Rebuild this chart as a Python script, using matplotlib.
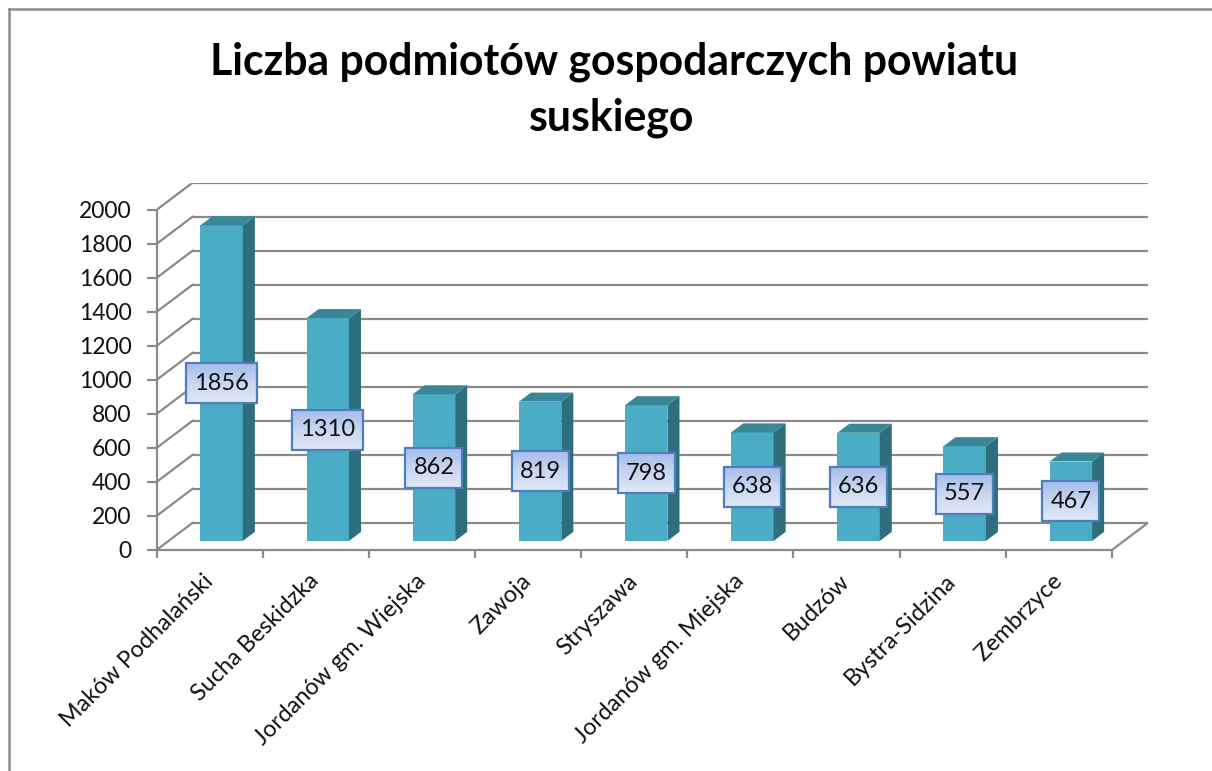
import matplotlib
matplotlib.use("Agg")
import matplotlib.pyplot as plt
import numpy as np
from matplotlib.patches import Polygon, Rectangle
from matplotlib.colors import LinearSegmentedColormap
from matplotlib.lines import Line2D

categories = ["Maków Podhalański", "Sucha Beskidzka", "Jordanów gm. Wiejska",
              "Zawoja", "Stryszawa", "Jordanów gm. Miejska", "Budzów",
              "Bystra-Sidzina", "Zembrzyce"]
values = [1856, 1310, 862, 819, 798, 638, 636, 557, 467]
y_ticks = [0, 200, 400, 600, 800, 1000, 1200, 1400, 1600, 1800, 2000]
title_lines = ["Liczba podmiotów gospodarczych powiatu", "suskiego"]

plt.rcParams['font.family'] = ['Lato', 'DejaVu Sans']

FRONT = '#4BACC6'
SIDE = '#2F6E7D'
TOP = '#3A8799'
GRID = '#8A8A8A'

fig = plt.figure(figsize=(12.12, 7.71), dpi=100)
W, H = 1212, 771
ax = fig.add_axes([156.5 / W, 1 - 550 / H, 991.5 / W, 367.3 / H])

n = len(categories)
DX = 0.34      # depth offset in category units
DY = 160.0     # depth offset in value units
BW = 0.40      # bar width
ymax = max(y_ticks)

ax.set_xlim(-0.5, n - 0.5 + DX)
ax.set_ylim(0, ymax + DY)

# walls: gridlines on back wall + left side wall
for v in y_ticks:
    ax.plot([-0.5 + DX, n - 0.5 + DX], [v + DY, v + DY], color=GRID, lw=1.6,
            zorder=1, solid_capstyle='butt')
    ax.plot([-0.5, -0.5 + DX], [v, v + DY], color=GRID, lw=1.6, zorder=1)
# floor right edge
ax.plot([n - 0.5, n - 0.5 + DX], [0, DY], color=GRID, lw=1.6, zorder=1)

# bars (pseudo 3D)
x = np.arange(n)
fx = x + DX / 3.0
fy0 = DY / 3.0
bdx = DX / 3.0
bdy = DY / 3.0
ax.bar(fx, values, width=BW, bottom=fy0, color=FRONT, zorder=3, linewidth=0)
for xi, v in zip(fx, values):
    r = xi + BW / 2
    l = xi - BW / 2
    top = fy0 + v
    side = Polygon([(r, fy0), (r + bdx, fy0 + bdy), (r + bdx, top + bdy), (r, top)],
                   closed=True, fc=SIDE, ec='none', zorder=3)
    topf = Polygon([(l, top), (r, top), (r + bdx, top + bdy), (l + bdx, top + bdy)],
                   closed=True, fc=TOP, ec='none', zorder=3)
    ax.add_patch(side)
    ax.add_patch(topf)

# data labels
texts = []
for xi, v in zip(fx, values):
    t = ax.text(xi, fy0 + v / 2.0, str(v), ha='center', va='center', fontsize=17,
                color='#111111', zorder=6)
    texts.append(t)

# axes styling
for s in ['top', 'right']:
    ax.spines[s].set_visible(False)
ax.spines['left'].set_bounds(0, ymax)
ax.spines['bottom'].set_bounds(-0.5, n - 0.5)
for s in ['left', 'bottom']:
    ax.spines[s].set_color(GRID)
    ax.spines[s].set_linewidth(1.6)
    ax.spines[s].set_zorder(2)

ax.set_yticks(y_ticks)
ax.set_yticklabels([str(v) for v in y_ticks], fontsize=16.5, color='#111111')
ax.tick_params(axis='y', direction='out', length=7, width=1.6, color=GRID, pad=11)

ax.set_xticks(np.arange(-0.5, n, 1.0), minor=True)
ax.set_xticks(x)
ax.set_xticklabels(categories, rotation=45, ha='right', va='center',
                   rotation_mode='anchor', fontsize=16.8, color='#111111')
ax.tick_params(axis='x', which='major', length=0, pad=20)
ax.tick_params(axis='x', which='minor', direction='out', length=6, width=1.6, color=GRID)

# title
fig.text(614 / W, 1 - 74 / H, title_lines[0], ha='center', va='baseline', fontsize=30.8,
         fontweight='bold', color='#000000')
fig.text(612 / W, 1 - 130 / H, title_lines[1], ha='center', va='baseline', fontsize=30.8,
         fontweight='bold', color='#000000')

# outer chart border (left and top visible)
fig.add_artist(Line2D([8.5 / W, 8.5 / W], [0, 1 - 9 / H], transform=fig.transFigure,
                      color='#8C8C8C', lw=1.8))
fig.add_artist(Line2D([8.5 / W, 1.0], [1 - 9 / H, 1 - 9 / H], transform=fig.transFigure,
                      color='#8C8C8C', lw=1.8))

# gradient-filled label boxes
fig.canvas.draw()
renderer = fig.canvas.get_renderer()
cmap = LinearSegmentedColormap.from_list('lbl', ['#A6BDE9', '#C8D6F1', '#E2EAF7'])
grad = np.linspace(0, 1, 64).reshape(-1, 1)
inv = ax.transData.inverted()
for t in texts:
    bb = t.get_window_extent(renderer)
    cx, cy = ax.transData.transform(t.get_position())
    hw = bb.width / 2 + 8
    hh = 20
    (x0, y0), (x1, y1) = inv.transform([(cx - hw, cy - hh), (cx + hw, cy + hh)])
    ax.imshow(grad, extent=[x0, x1, y0, y1], origin='upper', cmap=cmap,
              aspect='auto', zorder=5.5, interpolation='bilinear')
    ax.add_patch(Rectangle((x0, y0), x1 - x0, y1 - y0, fc='none', ec='#4F7EC0',
                           lw=1.6, zorder=5.7))
ax.set_xlim(-0.5, n - 0.5 + DX)
ax.set_ylim(0, ymax + DY)

fig.savefig('out.png', dpi=100)
